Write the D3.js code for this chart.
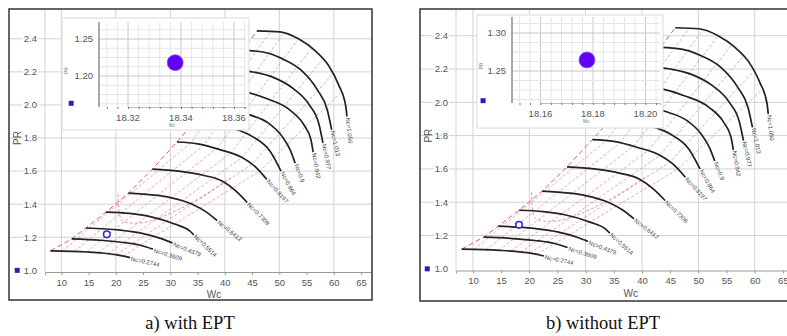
<!DOCTYPE html>
<html lang="en">
<head>
<meta charset="UTF-8">
<script src="https://d3js.org/d3.v7.min.js"></script>
<title>Compressor map</title>
<style>
  body { margin: 0; background: #fff; }
  text { font-family: "Liberation Sans", Arial, sans-serif; }
  text.caption { font-family: "Liberation Serif", "Times New Roman", serif; }
</style>
</head>
<body>
<script>
// corrected speed lines (Wc, PR)
var speedLabels = ["Nc=0.2744", "Nc=0.3609", "Nc=0.4379", "Nc=0.5514", "Nc=0.6412", "Nc=0.7308",
  "Nc=0.8197", "Nc=0.864", "Nc=0.9", "Nc=0.942", "Nc=0.977", "Nc=1.013", "Nc=1.050"];
var speedLines = [
  [[8.0, 1.118], [14.7, 1.111], [17.5, 1.105], [20.2, 1.094], [22.6, 1.077]],
  [[11.9, 1.19], [17.1, 1.182], [21.0, 1.17], [24.5, 1.152], [26.8, 1.128]],
  [[14.5, 1.256], [20.8, 1.243], [25.0, 1.222], [28.5, 1.19], [30.4, 1.165]],
  [[18.2, 1.352], [22.5, 1.344], [26.3, 1.325], [30.9, 1.279], [33.5, 1.24], [34.3, 1.215]],
  [[22.3, 1.467], [27.0, 1.455], [30.0, 1.44], [34.0, 1.40], [36.5, 1.355], [38.6, 1.30]],
  [[26.7, 1.612], [31.5, 1.60], [36.0, 1.575], [39.5, 1.54], [42.0, 1.48], [44.1, 1.41]],
  [[31.2, 1.776], [35.0, 1.765], [39.1, 1.73], [43.0, 1.685], [45.8, 1.62], [47.7, 1.55]],
  [[34.5, 1.90], [38.0, 1.888], [41.3, 1.86], [45.0, 1.81], [48.3, 1.72], [50.3, 1.60]],
  [[36.2, 2.0], [41.0, 1.975], [44.6, 1.94], [48.0, 1.89], [50.5, 1.81], [52.0, 1.727], [52.9, 1.648]],
  [[38.4, 2.105], [43.0, 2.085], [47.5, 2.04], [51.9, 1.97], [54.5, 1.88], [55.8, 1.79], [56.2, 1.715]],
  [[41.0, 2.215], [45.0, 2.20], [49.0, 2.165], [52.5, 2.10], [55.5, 2.0], [57.3, 1.88], [58.0, 1.77]],
  [[43.3, 2.33], [47.0, 2.32], [50.5, 2.28], [54.0, 2.21], [57.0, 2.09], [58.8, 1.97], [59.6, 1.85]],
  [[45.9, 2.448], [50.1, 2.442], [53.5, 2.40], [56.5, 2.33], [59.0, 2.24], [60.9, 2.12], [62.2, 1.99], [62.4, 1.93]]
];
// red dashed beta lines
var betaLines = [
  [[10.2, 1.117], [33.7, 1.77], [48.4, 2.445]],
  [[12.4, 1.115], [36.2, 1.76], [50.9, 2.44]],
  [[14.6, 1.111], [38.6, 1.74], [53.3, 2.39]],
  [[16.8, 1.107], [41.1, 1.71], [55.8, 2.34]],
  [[18.5, 1.10], [43.1, 1.68], [57.8, 2.27]],
  [[20.1, 1.095], [44.9, 1.64], [59.6, 2.18]],
  [[21.4, 1.088], [46.4, 1.60], [61.1, 2.07]]
];
// efficiency contour
var effContour = [[20.4, 1.46], [20.6, 1.35], [21.2, 1.30], [23.6, 1.285], [26.5, 1.30], [31.0, 1.36], [36.0, 1.45], [41.0, 1.56]];

var xTicks = [10, 15, 20, 25, 30, 35, 40, 45, 50, 55, 60, 65];
var xGrid = [10, 20, 30, 40, 50, 60];
var yTicks = [1.0, 1.2, 1.4, 1.6, 1.8, 2.0, 2.2, 2.4];
var squares = [[1.9, 1.0], [11.8, 2.01]];

var opPoints = [[18.3378, 1.218], [18.1777, 1.2645]];
var insetXTicks = [[18.32, 18.34, 18.36], [18.16, 18.18, 18.20]];
var insetYTicks = [[1.20, 1.25], [1.25, 1.30]];
var captions = ["a) with EPT", "b) without EPT"];

var W = 787, H = 336;
var svg = d3.select("body").append("svg").attr("width", W).attr("height", H);

var panels = [
  { fx: 9, fy: 9, fw: 363, fh: 291, x0: 45, kx: 5.45, ay: 272, ky: 165.4,
    ib: [62, 18, 187, 112], il: 99, ir: 245, it: 22, ibt: 107,
    ix: [18.32, 128, 2650], iy: [1.25, 39, 740], cap: 190 },
  { fx: 420, fy: 9, fw: 380, fh: 292, x0: 456, kx: 5.636, ay: 270.5, ky: 166.5,
    ib: [477, 15, 186, 113], il: 512, ir: 660, it: 17, ibt: 103,
    ix: [18.16, 540.5, 2625], iy: [1.30, 33, 760], cap: 603 }
];

panels.forEach(function(p, i) {
  var g = svg.append("g");
  var clipId = "clip" + i;
  g.append("clipPath").attr("id", clipId).append("rect")
    .attr("x", p.fx).attr("y", p.fy).attr("width", p.fw).attr("height", p.fh);
  var c = g.append("g").attr("clip-path", "url(#" + clipId + ")");

  var x = d3.scaleLinear().domain([7, 7 + (p.fx + p.fw - p.x0) / p.kx]).range([p.x0, p.fx + p.fw]);
  var y = d3.scaleLinear().domain([0.99, 0.99 + (p.ay - p.fy) / p.ky]).range([p.ay, p.fy]);

  c.append("rect").attr("x", p.fx).attr("y", p.fy).attr("width", p.fw).attr("height", p.fh).attr("fill", "#fff");

  // grid
  c.selectAll(".gx").data(xGrid).enter().append("line")
    .attr("x1", function(d) { return x(d); }).attr("x2", function(d) { return x(d); })
    .attr("y1", p.fy).attr("y2", p.ay)
    .attr("stroke", "#d2d2d2").attr("stroke-width", 1);
  c.selectAll(".gy").data(yTicks.slice(1)).enter().append("line")
    .attr("x1", p.fx).attr("x2", p.fx + p.fw)
    .attr("y1", function(d) { return y(d); }).attr("y2", function(d) { return y(d); })
    .attr("stroke", "#d2d2d2").attr("stroke-width", 1);
  c.append("line").attr("x1", p.x0).attr("x2", p.x0).attr("y1", p.fy).attr("y2", p.ay)
    .attr("stroke", "#d2d2d2");

  // x axis
  var xa = c.append("g").attr("transform", "translate(0," + p.ay + ")")
    .call(d3.axisBottom(x).tickValues(xTicks).tickSize(3).tickPadding(4).tickFormat(d3.format("d")));
  xa.select(".domain").attr("stroke", "#999");
  xa.selectAll(".tick line").attr("stroke", "#999");
  xa.selectAll("text").attr("fill", "#555").attr("font-size", 9.5);

  // y labels with white halo
  c.selectAll(".yl").data(yTicks).enter().append("text")
    .attr("x", p.x0 - 8).attr("y", function(d) { return y(d); }).attr("dy", "0.35em")
    .attr("text-anchor", "end").attr("font-size", 9.5).attr("fill", "#555")
    .attr("stroke", "#fff").attr("stroke-width", 3).attr("paint-order", "stroke")
    .text(function(d) { return d.toFixed(1); });

  c.append("text").attr("x", x(38)).attr("y", p.ay + 26)
    .attr("text-anchor", "middle").attr("font-size", 10).attr("fill", "#555").text("Wc");
  c.append("text").attr("transform", "translate(" + (p.fx + 12) + "," + y(1.8) + ") rotate(-90)")
    .attr("text-anchor", "middle").attr("font-size", 10).attr("fill", "#555").text("PR");

  var line = d3.line().x(function(d) { return x(d[0]); }).y(function(d) { return y(d[1]); });

  // red dashed lines
  c.selectAll(".beta").data(betaLines).enter().append("path")
    .attr("d", line).attr("fill", "none")
    .attr("stroke", "#e07a7a").attr("stroke-width", 0.8).attr("stroke-dasharray", "3,2").attr("opacity", 0.8);
  c.append("path").datum(effContour)
    .attr("d", d3.line().x(function(d) { return x(d[0]); }).y(function(d) { return y(d[1]); }).curve(d3.curveCatmullRom))
    .attr("fill", "none").attr("stroke", "#e07a7a").attr("stroke-width", 0.8).attr("stroke-dasharray", "3,2");
  c.append("path").datum(speedLines.map(function(s) { return s[0]; }))
    .attr("d", line)
    .attr("fill", "none").attr("stroke", "#dc6060").attr("stroke-width", 1).attr("stroke-dasharray", "5,3");

  // speed lines
  var sline = d3.line().x(function(d) { return x(d[0]); }).y(function(d) { return y(d[1]); }).curve(d3.curveMonotoneX);
  c.selectAll(".sp").data(speedLines).enter().append("path")
    .attr("d", sline).attr("fill", "none").attr("stroke", "#222").attr("stroke-width", 1.7);

  c.selectAll(".sl").data(speedLines).enter().append("text")
    .attr("transform", function(s) {
      var a = s[s.length - 2], b = s[s.length - 1];
      var ang = Math.atan2(y(b[1]) - y(a[1]), x(b[0]) - x(a[0])) * 180 / Math.PI;
      return "translate(" + (x(b[0]) + 1) + "," + (y(b[1]) + 1) + ") rotate(" + ang + ")";
    })
    .attr("font-size", 6).attr("fill", "#444").attr("dy", "0.35em")
    .text(function(s, j) { return speedLabels[j]; });

  // operating point
  c.append("circle").attr("cx", x(opPoints[i][0])).attr("cy", y(opPoints[i][1])).attr("r", 3.3)
    .attr("fill", "#fff").attr("stroke", "#2c2cd6").attr("stroke-width", 1.6);

  // inset
  var ins = c.append("g");
  ins.append("rect").attr("x", p.ib[0]).attr("y", p.ib[1]).attr("width", p.ib[2]).attr("height", p.ib[3])
    .attr("fill", "#fff").attr("stroke", "#dadada");
  var ix = d3.scaleLinear().domain([p.ix[0], p.ix[0] + (p.ir - p.ix[1]) / p.ix[2]]).range([p.ix[1], p.ir]);
  var iy = d3.scaleLinear().domain([p.iy[0], p.iy[0] - (p.ibt - p.iy[1]) / p.iy[2]]).range([p.iy[1], p.ibt]);
  var ixLo = ix.invert(p.il), iyLo = iy.invert(p.ibt), iyHi = iy.invert(p.it);
  var gxv = d3.range(Math.ceil((ixLo - p.ix[0]) / 0.004), Math.floor((ix.domain()[1] - p.ix[0]) / 0.004) + 1)
    .map(function(k) { return p.ix[0] + k * 0.004; });
  var gyv = d3.range(Math.ceil((iyLo - p.iy[0]) / 0.0125), Math.floor((iyHi - p.iy[0]) / 0.0125) + 1)
    .map(function(k) { return p.iy[0] + k * 0.0125; });
  ins.selectAll(".igx").data(gxv).enter().append("line")
    .attr("x1", function(d) { return ix(d); }).attr("x2", function(d) { return ix(d); })
    .attr("y1", p.it).attr("y2", p.ibt)
    .attr("stroke", function(d) { return insetXTicks[i].some(function(t) { return Math.abs(t - d) < 1e-6; }) ? "#c8c8c8" : "#e6e6e6"; });
  ins.selectAll(".igy").data(gyv).enter().append("line")
    .attr("x1", p.il).attr("x2", p.ir)
    .attr("y1", function(d) { return iy(d); }).attr("y2", function(d) { return iy(d); })
    .attr("stroke", function(d) { return insetYTicks[i].some(function(t) { return Math.abs(t - d) < 1e-6; }) ? "#c8c8c8" : "#e6e6e6"; });
  ins.append("line").attr("x1", p.il).attr("x2", p.il).attr("y1", p.it).attr("y2", p.ibt)
    .attr("stroke", "#555").attr("stroke-width", 1);
  var ixa = ins.append("g").attr("transform", "translate(0," + p.ibt + ")")
    .call(d3.axisBottom(ix).tickValues(gxv).tickSize(2).tickFormat(""));
  ixa.select(".domain").attr("stroke", "#bbb");
  ixa.selectAll(".tick line").attr("stroke", "#777");
  ins.selectAll(".ixl").data(insetXTicks[i]).enter().append("text")
    .attr("x", function(d) { return ix(d); }).attr("y", p.ibt + 14)
    .attr("text-anchor", "middle").attr("font-size", 9.5).attr("fill", "#555")
    .text(function(d) { return d.toFixed(2); });
  ins.selectAll(".iyl").data(insetYTicks[i]).enter().append("text")
    .attr("x", p.il - 6).attr("y", function(d) { return iy(d); }).attr("dy", "0.35em")
    .attr("text-anchor", "end").attr("font-size", 9.5).attr("fill", "#555")
    .text(function(d) { return d.toFixed(2); });
  ins.append("text").attr("x", (p.il + p.ir) / 2).attr("y", p.ibt + 20)
    .attr("text-anchor", "middle").attr("font-size", 4.5).attr("fill", "#777").text("Wc");
  ins.append("text").attr("transform", "translate(" + (p.ib[0] + 6) + "," + ((p.it + p.ibt) / 2 + 6) + ") rotate(-90)")
    .attr("text-anchor", "middle").attr("font-size", 4.5).attr("fill", "#777").text("PR");
  ins.append("circle").attr("cx", ix(opPoints[i][0])).attr("cy", iy(opPoints[i][1])).attr("r", 8)
    .attr("fill", "#6200f5").attr("stroke", "#8c5cf5").attr("stroke-width", 0.8);

  // blue square markers
  c.selectAll(".sq").data(squares).enter().append("rect")
    .attr("x", function(d) { return x(d[0]) - 2.5; }).attr("y", function(d) { return y(d[1]) - 2.5; })
    .attr("width", 5).attr("height", 5).attr("fill", "#2a1fb8");

  // frame
  g.append("rect").attr("x", p.fx).attr("y", p.fy).attr("width", p.fw).attr("height", p.fh)
    .attr("fill", "none").attr("stroke", "#333").attr("stroke-width", 1.5);

  svg.append("text").attr("class", "caption").attr("x", p.cap).attr("y", 329).attr("text-anchor", "middle")
    .attr("font-size", 18.5).attr("fill", "#111")
    .text(captions[i]);
});
</script>
</body>
</html>
